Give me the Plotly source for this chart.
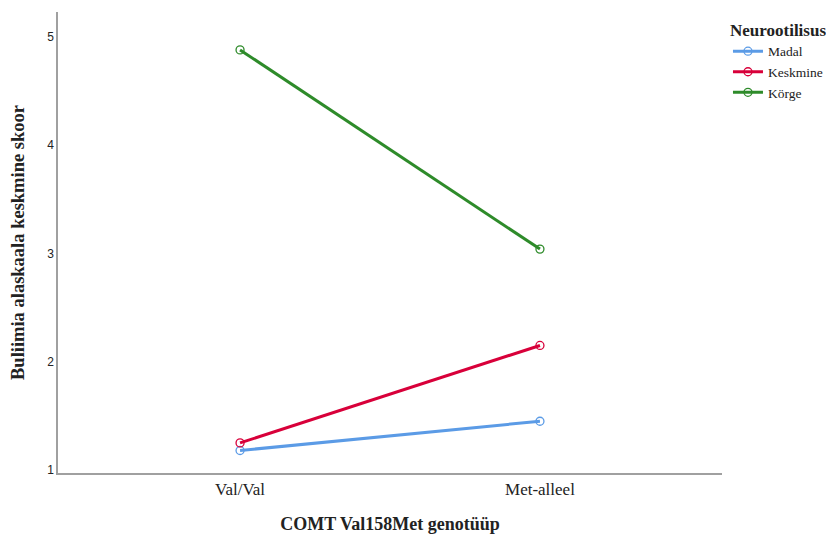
import plotly.graph_objects as go

categories = ["Val/Val", "Met-alleel"]
series_names = ["Madal", "Keskmine", "Körge"]
madal = [1.18, 1.45]
keskmine = [1.25, 2.15]
korge = [4.88, 3.04]
y_ticks = [1, 2, 3, 4, 5]
colors = ["#5b9be6", "#d8003a", "#2e8b2a"]

fig = go.Figure()
for name, vals, col in zip(series_names, [madal, keskmine, korge], colors):
    fig.add_trace(go.Scatter(
        x=[0, 1], y=vals, name=name, mode="lines+markers",
        line=dict(color=col, width=3),
        marker=dict(symbol="circle-open", size=8, color=col, line=dict(width=1.3)),
    ))

serif = "Liberation Serif, Times New Roman, serif"
# page body has an 8px margin, so the figure is sized 826x526
fig.update_layout(
    width=826, height=526,
    paper_bgcolor="white", plot_bgcolor="white",
    margin=dict(l=50, r=112, t=4, b=61, autoexpand=False),
    font=dict(family=serif, color="#222"),
    showlegend=True,
    legend=dict(
        x=1.009, y=0.996, xanchor="left", yanchor="top",
        title=dict(text="<b>Neurootilisus</b>", font=dict(size=17, family=serif)),
        font=dict(size=13.5, family=serif),
        itemwidth=30, tracegroupgap=0,
    ),
    xaxis=dict(
        range=[-0.607, 1.607], automargin=False,
        tickmode="array", tickvals=[0, 1], ticktext=categories,
        showline=True, linecolor="#a0a0a0", linewidth=1.5,
        showgrid=False, zeroline=False, ticks="",
        tickfont=dict(size=17, family=serif, color="#222"),
        title=dict(text="<b>COMT Val158Met genotüüp</b>", font=dict(size=18, family=serif), standoff=22),
    ),
    yaxis=dict(
        range=[0.972, 5.23], automargin=False,
        tickmode="array", tickvals=y_ticks,
        showline=True, linecolor="#a0a0a0", linewidth=1.5,
        showgrid=False, zeroline=False, ticks="",
        tickfont=dict(size=12, family="Liberation Sans, Arial, sans-serif", color="#222"),
        title=dict(text="<b>Buliimia alaskaala keskmine skoor</b>", font=dict(size=18.5, family=serif), standoff=21),
    ),
)
fig.write_html("out.html")
